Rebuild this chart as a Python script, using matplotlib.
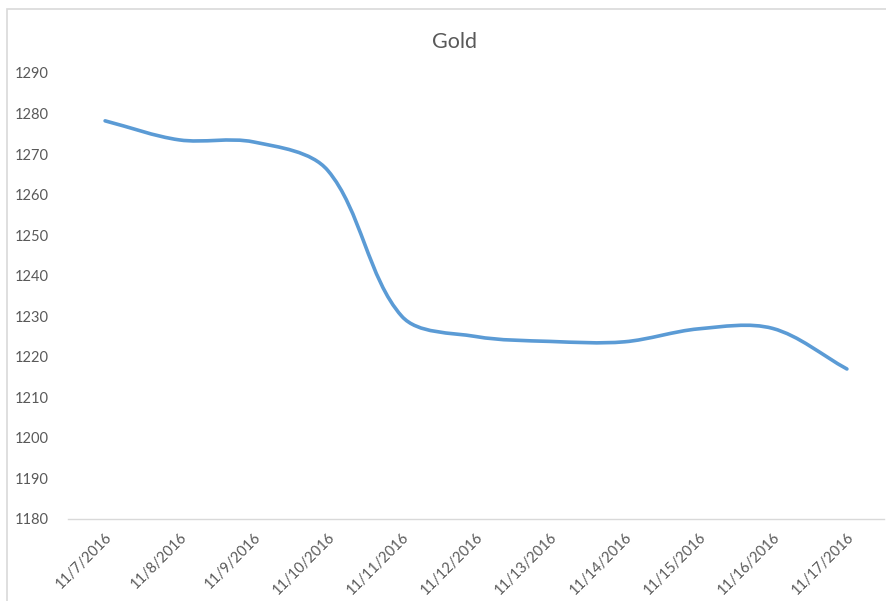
import matplotlib
matplotlib.use('Agg')
import math
import matplotlib.pyplot as plt
from matplotlib.path import Path
from matplotlib.patches import PathPatch, Rectangle

dates = ['11/7/2016', '11/8/2016', '11/9/2016', '11/10/2016', '11/11/2016', '11/12/2016',
         '11/13/2016', '11/14/2016', '11/15/2016', '11/16/2016', '11/17/2016']
prices = [1278.2, 1273.5, 1273.0, 1266.0, 1230.0, 1225.0, 1223.8, 1223.7, 1226.9, 1227.0, 1217.0]
y_ticks = list(range(1180, 1300, 10))

plt.rcParams['font.family'] = ['Lato', 'DejaVu Sans']
GRAY = '#595959'
BLUE = '#5B9BD5'


def smooth_path(ax, xs, ys):
    # smoothed line from cubic Bezier pieces; tangents weighted by on-screen segment lengths
    p0 = ax.transData.transform((0, 0))
    p1 = ax.transData.transform((1, 1))
    sx, sy = p1[0] - p0[0], p1[1] - p0[1]
    pts = list(zip(xs, ys))
    n = len(pts)

    def dist(a, b):
        return math.hypot((b[0] - a[0]) * sx, (b[1] - a[1]) * sy)

    out_ctrl, in_ctrl = [], []
    for i in range(n):
        prev = pts[i - 1] if i > 0 else pts[i]
        nxt = pts[i + 1] if i < n - 1 else pts[i]
        d_in, d_out = dist(prev, pts[i]), dist(pts[i], nxt)
        tot = d_in + d_out or 1.0
        tx, ty = nxt[0] - prev[0], nxt[1] - prev[1]
        fo = d_out / tot / 3
        fi = d_in / tot / 3
        out_ctrl.append((pts[i][0] + tx * fo, pts[i][1] + ty * fo))
        in_ctrl.append((pts[i][0] - tx * fi, pts[i][1] - ty * fi))

    verts = [pts[0]]
    codes = [Path.MOVETO]
    for i in range(n - 1):
        verts += [out_ctrl[i], in_ctrl[i + 1], pts[i + 1]]
        codes += [Path.CURVE4] * 3
    return Path(verts, codes)


fig = plt.figure(figsize=(8.87, 6.01), dpi=100)
fig.patches.append(Rectangle((7 / 887, -0.1), 1.2, 1 - 8.5 / 601 + 0.1,
                             transform=fig.transFigure, fill=False,
                             edgecolor='#D9D9D9', linewidth=1.2))

ax = fig.add_axes([68 / 887, 1 - 519 / 601, (884 - 68) / 887, (519 - 73) / 601])
x = list(range(len(dates)))
ax.set_xlim(-0.5, len(dates) - 0.5)
ax.set_ylim(1180, 1290)
ax.add_patch(PathPatch(smooth_path(ax, x, prices), facecolor='none', edgecolor=BLUE,
                       linewidth=2.6, capstyle='round', joinstyle='round'))

ax.set_yticks(y_ticks)
ax.set_xticks(x)
ax.set_xticklabels(dates, rotation=45, ha='right', va='top', rotation_mode='anchor')
for s in ['top', 'right', 'left']:
    ax.spines[s].set_visible(False)
ax.spines['bottom'].set_color('#D9D9D9')
ax.spines['bottom'].set_linewidth(1.0)
ax.tick_params(axis='both', length=0, labelsize=10.5, labelcolor=GRAY)
ax.tick_params(axis='y', pad=14)
ax.tick_params(axis='x', pad=8)

fig.text(455 / 887, 1 - 42 / 601, 'Gold', ha='center', va='center', fontsize=15.5, color=GRAY)

fig.savefig('out.png', dpi=100)
